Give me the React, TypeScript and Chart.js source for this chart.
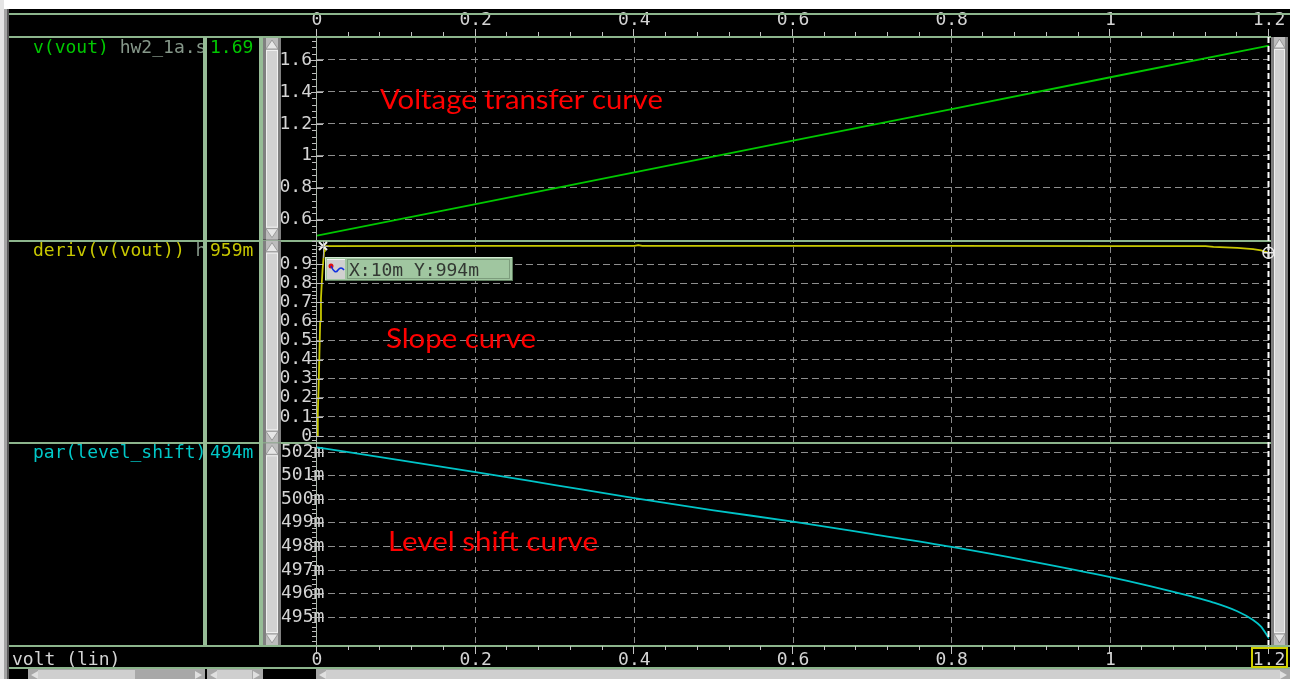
import { useEffect, useRef } from 'react';
import { Chart, registerables } from 'chart.js';

Chart.register(...registerables);

// ---------- data ----------
const xTickValues = [0, 0.2, 0.4, 0.6, 0.8, 1, 1.2];

const voutX = [0, 0.2, 0.4, 0.6, 0.8, 1.0, 1.2];
const voutY = [0.5, 0.698, 0.897, 1.095, 1.293, 1.492, 1.69];

const derivX = [0, 0.001, 0.002, 0.003, 0.004, 0.005, 0.006, 0.007, 0.008, 0.009, 0.01, 0.2, 0.4, 0.405, 0.41, 0.6, 0.8, 1.0, 1.12, 1.13, 1.16, 1.18, 1.19, 1.2];
const derivY = [0, 0.12, 0.25, 0.42, 0.6, 0.72, 0.8, 0.87, 0.92, 0.97, 0.994, 0.995, 0.995, 0.999, 0.995, 0.995, 0.995, 0.994, 0.994, 0.99, 0.985, 0.978, 0.972, 0.959];

const shiftX = [0, 0.1, 0.2, 0.3, 0.4, 0.5, 0.6, 0.7, 0.8, 0.9, 1.0, 1.05, 1.1, 1.13, 1.16, 1.18, 1.19, 1.2];
const shiftY = [0.5022, 0.50168, 0.50115, 0.5006, 0.50005, 0.49953, 0.49905, 0.49852, 0.49798, 0.49737, 0.4967, 0.49632, 0.4959, 0.49562, 0.49525, 0.49488, 0.4946, 0.4941];

const voutTicks = [0.6, 0.8, 1, 1.2, 1.4, 1.6];
const derivTicks = [0, 0.1, 0.2, 0.3, 0.4, 0.5, 0.6, 0.7, 0.8, 0.9];
const shiftTicks = [0.495, 0.496, 0.497, 0.498, 0.499, 0.5, 0.501, 0.502];

const signalNames = ['v(vout)', 'deriv(v(vout))', 'par(level_shift)'];
const signalFiles = [' hw2_1a.sp', ' hw2_1a.sp', ''];
const cursorValues = ['1.69', '959m', '494m'];
const annotations = ['Voltage transfer curve', 'Slope curve', 'Level shift curve'];
const xAxisTitle = 'volt (lin)';
const cursorX = 1.2;
const markerX = 0.01;
const markerY = 0.994;

// ---------- styles ----------
const MONO = '"DejaVu Sans Mono", "Liberation Mono", monospace';
const FS = 18;
const SAGE = '#8cb48c';
const TEXT = '#d4d4d4';
const lineColors = ['#00c800', '#c8c800', '#00c4c8'];
const textColors = ['#00c800', '#c8c800', '#00c8c8'];

const fmt1 = (v: number) => String(Math.round(v * 10) / 10);
const fmtMilli = (v: number) => Math.round(v * 1000) + 'm';

function vScroll(ctx: CanvasRenderingContext2D, x: number, y1: number, y2: number, w: number) {
  ctx.fillStyle = '#808080';
  ctx.fillRect(x, y1, w, y2 - y1);
  ctx.fillStyle = '#bcbcbc';
  ctx.fillRect(x + 3, y1, w - 6, y2 - y1);
  ctx.fillStyle = '#d2d2d2';
  ctx.fillRect(x + 3, y1 + 12, w - 6, y2 - y1 - 24);
  ctx.strokeStyle = '#f0f0f0';
  ctx.lineWidth = 1;
  ctx.strokeRect(x + 3.5, y1 + 12.5, w - 7, y2 - y1 - 25);
  ctx.fillStyle = '#e6e6e6';
  ctx.strokeStyle = '#9a9a9a';
  const cx = x + w / 2;
  ctx.beginPath();
  ctx.moveTo(cx, y1 + 2);
  ctx.lineTo(x + 3, y1 + 11);
  ctx.lineTo(x + w - 3, y1 + 11);
  ctx.closePath();
  ctx.fill();
  ctx.stroke();
  ctx.beginPath();
  ctx.moveTo(cx, y2 - 2);
  ctx.lineTo(x + 3, y2 - 11);
  ctx.lineTo(x + w - 3, y2 - 11);
  ctx.closePath();
  ctx.fill();
  ctx.stroke();
}

function hScroll(ctx: CanvasRenderingContext2D, x1: number, x2: number, y: number, h: number, thumb?: [number, number]) {
  ctx.fillStyle = '#a8a8a8';
  ctx.fillRect(x1, y, x2 - x1, h);
  ctx.fillStyle = '#cfcfcf';
  if (thumb) ctx.fillRect(thumb[0], y + 1, thumb[1] - thumb[0], h - 1);
  ctx.fillStyle = '#e0e0e0';
  ctx.beginPath();
  ctx.moveTo(x1 + 3, y + h / 2 + 1);
  ctx.lineTo(x1 + 10, y + 2);
  ctx.lineTo(x1 + 10, y + h);
  ctx.closePath();
  ctx.fill();
  ctx.beginPath();
  ctx.moveTo(x2 - 3, y + h / 2 + 1);
  ctx.lineTo(x2 - 10, y + 2);
  ctx.lineTo(x2 - 10, y + h);
  ctx.closePath();
  ctx.fill();
}

function fitText(ctx: CanvasRenderingContext2D, text: string, x: number, y: number, width: number) {
  const w = ctx.measureText(text).width;
  ctx.save();
  ctx.translate(x, y);
  ctx.scale(width / w, 1);
  ctx.fillText(text, 0, 0);
  ctx.restore();
}

const decorPlugin = {
  id: 'decor',
  beforeDraw(chart: any) {
    const ctx: CanvasRenderingContext2D = chart.ctx;
    ctx.save();
    ctx.fillStyle = '#ffffff';
    ctx.fillRect(0, 0, 1296, 679);
    ctx.fillStyle = '#000000';
    ctx.fillRect(9, 9, 1281, 670);
    ctx.fillStyle = '#e4e4e4';
    ctx.fillRect(0, 0, 4, 679);
    ctx.fillStyle = '#a4a4a4';
    ctx.fillRect(4, 9, 3, 670);
    ctx.fillStyle = '#5a5a5a';
    ctx.fillRect(7, 9, 2, 670);
    ctx.restore();
  },
  afterDraw(chart: any) {
    const ctx: CanvasRenderingContext2D = chart.ctx;
    const area = chart.chartArea;
    const sx = chart.scales.x;
    const panels = [chart.scales.yVout, chart.scales.yDeriv, chart.scales.yShift];
    const minorSteps = [0.04, 0.02, 0.0002];
    const majorTicks = [voutTicks, derivTicks, shiftTicks];
    ctx.save();

    const hl = (x1: number, x2: number, y: number) => {
      ctx.fillStyle = SAGE;
      ctx.fillRect(x1, Math.round(y), x2 - x1, 2);
    };
    hl(9, 1290, 13);
    hl(9, 1271, area.top - 1);
    hl(9, 1271, panels[0].bottom);
    hl(9, 1271, panels[1].bottom);
    hl(9, 1290, area.bottom);
    hl(9, 1290, 667);

    ctx.fillStyle = '#96bc96';
    ctx.fillRect(203, area.top, 4, area.bottom - area.top);
    ctx.fillRect(259, area.top, 4, area.bottom - area.top);

    ctx.fillStyle = '#a8b4a8';
    ctx.fillRect(Math.round(area.left) - 1, area.top, 1, area.bottom - area.top);

    panels.forEach((s: any, i: number) => {
      const top = s.top;
      const bottom = s.bottom;
      vScroll(ctx, 263, top + 1, bottom, 18);

      ctx.fillStyle = '#bdbdbd';
      const step = minorSteps[i];
      for (let k = Math.ceil(s.min / step); k * step <= s.max; k++) {
        const y = Math.round(s.getPixelForValue(k * step));
        if (y <= top + 1 || y >= bottom - 1) continue;
        ctx.fillRect(area.left - 5, y, 4, 1);
      }
      majorTicks[i].forEach((v) => {
        const y = Math.round(s.getPixelForValue(v));
        ctx.fillRect(area.left - 6, y, 12, 1);
      });

      ctx.save();
      ctx.beginPath();
      ctx.rect(9, top, 194, bottom - top);
      ctx.clip();
      ctx.font = `${FS}px ${MONO}`;
      ctx.textBaseline = 'alphabetic';
      ctx.textAlign = 'left';
      ctx.fillStyle = textColors[i];
      ctx.fillText(signalNames[i], 33, top + 16);
      const w = ctx.measureText(signalNames[i]).width;
      ctx.fillStyle = '#86988a';
      ctx.fillText(signalFiles[i], 33 + w, top + 16);
      ctx.restore();
      ctx.font = `${FS}px ${MONO}`;
      ctx.fillStyle = textColors[i];
      ctx.textAlign = 'left';
      ctx.textBaseline = 'alphabetic';
      ctx.fillText(cursorValues[i], 210, top + 16);
    });

    vScroll(ctx, 1271, area.top, area.bottom, 17);

    ctx.fillStyle = '#c4c4c4';
    for (let k = 0; k <= 30; k++) {
      const v = k * 0.04;
      const x = Math.round(sx.getPixelForValue(v)) - 1;
      const major = k % 5 === 0;
      ctx.fillRect(x, major ? area.top - 8 : area.top - 5, 1, major ? 7 : 4);
      ctx.fillRect(x, area.bottom + 1, 1, major ? 8 : 4);
    }

    const cx = Math.round(sx.getPixelForValue(cursorX)) - 0.5;
    ctx.strokeStyle = '#ffffff';
    ctx.lineWidth = 2;
    ctx.setLineDash([6, 3]);
    ctx.beginPath();
    ctx.moveTo(cx, area.top);
    ctx.lineTo(cx, area.bottom);
    ctx.stroke();
    ctx.setLineDash([]);

    const cy = panels[1].getPixelForValue(derivY[derivY.length - 1]);
    ctx.strokeStyle = '#e8e8e8';
    ctx.lineWidth = 1.5;
    ctx.beginPath();
    ctx.arc(cx, cy, 5.5, 0, Math.PI * 2);
    ctx.stroke();
    ctx.beginPath();
    ctx.moveTo(cx - 5.5, cy);
    ctx.lineTo(cx + 5.5, cy);
    ctx.moveTo(cx, cy - 5.5);
    ctx.lineTo(cx, cy + 5.5);
    ctx.stroke();

    const mx = Math.round(sx.getPixelForValue(markerX)) - 2;
    const my = Math.round(panels[1].getPixelForValue(markerY));
    ctx.strokeStyle = '#f0f0f0';
    ctx.lineWidth = 2;
    ctx.beginPath();
    ctx.moveTo(mx - 4, my - 4);
    ctx.lineTo(mx + 4, my + 4);
    ctx.moveTo(mx + 4, my - 4);
    ctx.lineTo(mx - 4, my + 4);
    ctx.stroke();
    ctx.lineWidth = 1;
    ctx.strokeStyle = '#b0b0b0';
    ctx.beginPath();
    ctx.moveTo(mx - 5.5, my + 0.5);
    ctx.lineTo(mx + 5.5, my + 0.5);
    ctx.moveTo(mx + 0.5, my - 5);
    ctx.lineTo(mx + 0.5, my + 12);
    ctx.stroke();

    const bx = 325, by = 257, bw = 188, bh = 24;
    ctx.fillStyle = '#a0c6a0';
    ctx.fillRect(bx, by, bw, bh);
    ctx.fillStyle = '#d4ead4';
    ctx.fillRect(bx, by, bw, 1);
    ctx.fillRect(bx, by, 1, bh);
    ctx.fillStyle = '#5e7e5e';
    ctx.fillRect(bx, by + bh - 1, bw, 1);
    ctx.fillRect(bx + bw - 1, by, 1, bh);
    ctx.fillStyle = '#d0d0d0';
    ctx.fillRect(bx + 2, by + 2, 18, bh - 4);
    ctx.fillStyle = '#f4f4f4';
    ctx.fillRect(bx + 2, by + 2, 18, 1);
    ctx.fillStyle = '#e01010';
    ctx.beginPath();
    ctx.arc(bx + 6, by + 9, 2.5, 0, Math.PI * 2);
    ctx.fill();
    ctx.strokeStyle = '#1030e0';
    ctx.lineWidth = 1.5;
    ctx.beginPath();
    ctx.moveTo(bx + 6, by + 9);
    ctx.quadraticCurveTo(bx + 10, by + 18, bx + 13, by + 13);
    ctx.quadraticCurveTo(bx + 16, by + 9, bx + 19, by + 13);
    ctx.stroke();
    ctx.strokeStyle = '#7c9c7c';
    ctx.lineWidth = 1;
    ctx.strokeRect(bx + 22.5, by + 2.5, bw - 26, bh - 5);
    ctx.font = `${FS}px ${MONO}`;
    ctx.fillStyle = '#333833';
    ctx.textAlign = 'left';
    ctx.textBaseline = 'alphabetic';
    ctx.fillText(`X:${Math.round(markerX * 1000)}m Y:${Math.round(markerY * 1000)}m`, bx + 24, by + 19);

    // red annotations
    ctx.font = '27px Lato, "Open Sans", sans-serif';
    ctx.fillStyle = '#ff0000';
    fitText(ctx, annotations[0], 380, 109, 283);
    fitText(ctx, annotations[1], 386, 348, 150);
    fitText(ctx, annotations[2], 388, 551, 210);

    // footer
    ctx.font = `${FS}px ${MONO}`;
    ctx.fillStyle = TEXT;
    ctx.fillText(xAxisTitle, 12, 665);
    ctx.strokeStyle = '#d0d000';
    ctx.lineWidth = 2;
    ctx.strokeRect(1252, 648, 35, 19);

    hScroll(ctx, 28, 205, 669, 10, [38, 135]);
    hScroll(ctx, 207, 263, 669, 10, [217, 252]);
    hScroll(ctx, 316, 1290, 669, 10, [326, 1280]);

    ctx.restore();
  },
};

export default function App() {
  const ref = useRef<HTMLCanvasElement>(null);

  useEffect(() => {
    const canvas = ref.current;
    if (!canvas) return;
    const tickFont = { family: MONO, size: FS };
    const yCommon = (ticks: number[], fmt: (v: number) => string, padding: number, mirror: boolean, min: number, max: number, weight: number) => ({
      type: 'linear' as const,
      position: 'left' as const,
      stack: 'panels',
      stackWeight: 1,
      weight,
      min,
      max,
      afterBuildTicks: (s: any) => {
        s.ticks = ticks.map((v) => ({ value: v }));
      },
      afterFit: (s: any) => {
        s.width = 39;
      },
      ticks: {
        autoSkip: false,
        mirror,
        color: TEXT,
        font: tickFont,
        padding,
        callback: (v: any) => fmt(Number(v)),
      },
      grid: { color: '#8e8e8e', lineWidth: 1, drawTicks: false },
      border: { display: false, dash: [7, 4] },
    });

    const chart = new Chart(canvas, {
      type: 'line',
      data: {
        datasets: [
          {
            data: voutX.map((x, i) => ({ x, y: voutY[i] })),
            xAxisID: 'x',
            yAxisID: 'yVout',
            borderColor: lineColors[0],
            borderWidth: 1.8,
            pointRadius: 0,
          },
          {
            data: derivX.map((x, i) => ({ x, y: derivY[i] })),
            xAxisID: 'x',
            yAxisID: 'yDeriv',
            borderColor: lineColors[1],
            borderWidth: 1.8,
            pointRadius: 0,
          },
          {
            data: shiftX.map((x, i) => ({ x, y: shiftY[i] })),
            xAxisID: 'x',
            yAxisID: 'yShift',
            borderColor: lineColors[2],
            borderWidth: 1.8,
            pointRadius: 0,
            cubicInterpolationMode: 'monotone',
          },
        ],
      } as any,
      options: {
        animation: false,
        responsive: false,
        events: [],
        layout: { padding: { left: 278, right: 27, top: 0, bottom: 0 } },
        plugins: { legend: { display: false }, tooltip: { enabled: false } },
        scales: {
          x: {
            type: 'linear',
            position: 'bottom',
            min: 0,
            max: 1.2,
            afterBuildTicks: (s: any) => {
              s.ticks = xTickValues.map((v) => ({ value: v }));
            },
            afterFit: (s: any) => {
              s.height = 34;
            },
            ticks: { autoSkip: false, maxRotation: 0, color: TEXT, font: tickFont, padding: 5, callback: (v: any) => fmt1(Number(v)) },
            grid: {
              drawTicks: false,
              lineWidth: 1,
              color: (c: any) => {
                const v = c.tick ? c.tick.value : -1;
                return v < 0.01 || v > 1.19 ? 'rgba(0,0,0,0)' : '#8a8a8a';
              },
            },
            border: { display: false, dash: [6, 4] },
          },
          x2: {
            type: 'linear',
            position: 'top',
            min: 0,
            max: 1.2,
            afterBuildTicks: (s: any) => {
              s.ticks = xTickValues.map((v) => ({ value: v }));
            },
            afterFit: (s: any) => {
              s.height = 37;
            },
            ticks: { autoSkip: false, maxRotation: 0, color: TEXT, font: tickFont, padding: 6, callback: (v: any) => fmt1(Number(v)) },
            grid: { display: false, drawTicks: false },
            border: { display: false },
          },
          yShift: yCommon(shiftTicks, fmtMilli, -36, true, 0.493822, 0.502411, 1),
          yDeriv: yCommon(derivTicks, fmt1, 5, false, -0.033, 1.028, 2),
          yVout: yCommon(voutTicks, fmt1, 5, false, 0.475, 1.744, 3),
        } as any,
      },
      plugins: [decorPlugin as any],
    });
    return () => chart.destroy();
  }, []);

  return (
    <div style={{ position: 'fixed', left: 0, top: 0, width: 1296, height: 679, background: '#ffffff' }}>
      <canvas ref={ref} width={1296} height={679} style={{ display: 'block', width: 1296, height: 679 }} />
    </div>
  );
}
